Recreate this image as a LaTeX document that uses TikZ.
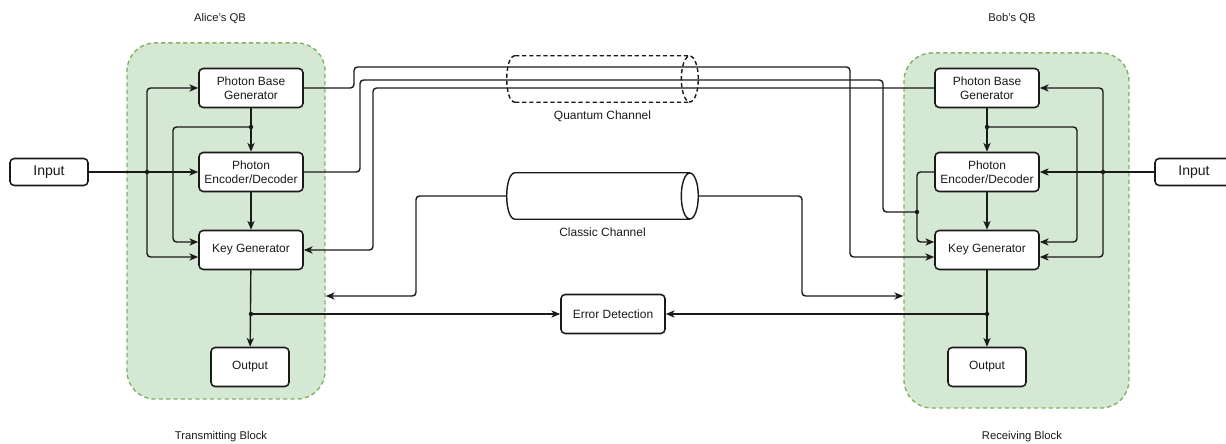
\documentclass[tikz,border=0pt]{standalone}
\usepackage{fontspec}
\setmainfont{Liberation Sans}
\usepackage{tikz}
\usetikzlibrary{arrows.meta,positioning,calc}
\definecolor{qbfill}{HTML}{D5E8D4}
\definecolor{qbline}{HTML}{82B366}
\definecolor{ink}{HTML}{1A1A1A}

% outline of a lying cylinder round a node
\newcommand{\tube}[2]{%
  \draw[ink,line width=1pt,#2]
    ($(#1.north west)+(8.5,0)$) -- ($(#1.north east)+(-8.5,0)$)
    ($(#1.south west)+(8.5,0)$) -- ($(#1.south east)+(-8.5,0)$)
    ($(#1.north west)+(8.5,0)$) .. controls ($(#1.north west)+(-2.8,0)$)
      and ($(#1.south west)+(-2.8,0)$) .. ($(#1.south west)+(8.5,0)$)
    ($(#1.east)+(-8.5,0)$) ellipse [x radius=0.2125cm,y radius=0.575cm];}

\begin{document}
\begin{tikzpicture}[x=0.025cm,y=-0.025cm,
  every node/.style={font=\fontsize{8.5}{10}\selectfont,align=center,text=ink},
  box/.style={draw=ink,line width=1.1pt,rounded corners=3pt,fill=white,minimum width=2.6cm,minimum height=0.975cm,inner sep=1pt},
  qb/.style={draw=qbline,fill=qbfill,line width=1pt,dash pattern=on 3pt off 2.2pt,rounded corners=0.7cm,minimum height=8.9cm},
  lbl/.style={font=\fontsize{8}{9.5}\selectfont},
  wire/.style={draw=ink,line width=1pt,rounded corners=2.5pt},
  arr/.style={wire,-{Stealth[length=2.2mm,width=1.8mm,inset=0.6mm]}},
  channel/.style={minimum width=4.775cm,minimum height=1.15cm,inner sep=0pt}
]
\useasboundingbox (0,0) rectangle (1226,444);

% quantum blocks
\node[qb,minimum width=4.95cm] (lqb) at (226,221) {};
\node[qb,minimum width=5.625cm,minimum height=8.875cm] (rqb) at (1016.5,230.5) {};
\node[lbl] (alice) at (220,18) {Alice's QB};
\node[lbl] (bob) at (1012,18) {Bob's QB};
\node[lbl] (tx) at (221,437) {Transmitting Block};
\node[lbl] (rx) at (1022,437) {Receiving Block};

% Alice
\node[box,font=\fontsize{10}{12}\selectfont,minimum width=1.95cm,minimum height=0.675cm] (lin) at (49,172) {Input};
\node[box] (lpbg) at (251,88) {Photon Base\\Generator};
\node[box] (lped) at (251,172) {Photon\\Encoder/Decoder};
\node[box] (lkg) at (251,250) {Key Generator};
\node[box,minimum width=1.95cm] (lout) at (250,367) {Output};

% Bob
\node[box,font=\fontsize{10}{12}\selectfont,minimum width=1.95cm,minimum height=0.675cm] (rin) at (1194,172) {Input};
\node[box] (rpbg) at (987,88) {Photon Base\\Generator};
\node[box] (rped) at (987,172) {Photon\\Encoder/Decoder};
\node[box] (rkg) at (987,250) {Key Generator};
\node[box,minimum width=1.95cm] (rout) at (987,367) {Output};

% channels
\node[channel] (qch) at (602.5,79) {};
\tube{qch}{dash pattern=on 3pt off 2pt}
\node[below=0.08cm of qch] (qlbl) {Quantum Channel};
\node[channel] (cch) at (602.5,196) {};
\tube{cch}{}
\node[below=0.08cm of cch] (clbl) {Classic Channel};
\node[box] (err) at (613,314) {Error Detection};

% junctions
\coordinate (ljn) at (147,172);
\coordinate (ldot) at (251,127);
\coordinate (ledot) at (251,314);
\coordinate (rjn) at (1103,172);
\coordinate (rdot) at (987,127);
\coordinate (redot) at (987,314);
\coordinate (rmid) at (917,212);

% Alice wiring
\draw[arr] (lin) -- (lped);
\draw[arr] (ljn) |- (lpbg.west);
\draw[arr] (ljn) |- ($(lkg.west)+(0,7)$);
\draw[arr] (lpbg) -- (lped);
\draw[arr] (ldot) -| (173,242) -- ($(lkg.west)+(0,-8)$);
\draw[arr] (lped) -- (lkg);
\draw[arr] (lkg) -- (lout);
\draw[arr] (ledot) -- (err.west);

% Bob wiring
\draw[arr] (rin) -- (rped);
\draw[arr] (rjn) |- (rpbg.east);
\draw[arr] (rjn) |- ($(rkg.east)+(0,7)$);
\draw[arr] (rpbg) -- (rped);
\draw[arr] (rdot) -| (1077,242) -- ($(rkg.east)+(0,-8)$);
\draw[arr] (rped.west) -| (917,242) -- ($(rkg.west)+(0,-8)$);
\draw[arr] (rped) -- (rkg);
\draw[arr] (rkg) -- (rout);
\draw[arr] (redot) -- (err.east);

% through the quantum channel
\draw[arr] (lpbg.east) -- (354,88) -- (354,67) -- (850,67) |- ($(rkg.west)+(0,7)$);
\draw[wire] (lped.east) -- (360,172) -- (360,80) -- (883,80) |- (rmid);
\draw[arr] (rpbg.west) -- (373,88) |- (lkg.east);

% classic channel
\draw[arr] (cch.west) -| (416,296) -- (lqb.east |- 0,296);
\draw[arr] (cch.east) -| (802,296) -- (rqb.west |- 0,296);

\foreach \j in {ljn,ldot,ledot,rjn,rdot,redot,rmid}
  \fill[ink] (\j) circle (1.6pt);
\end{tikzpicture}
\end{document}
